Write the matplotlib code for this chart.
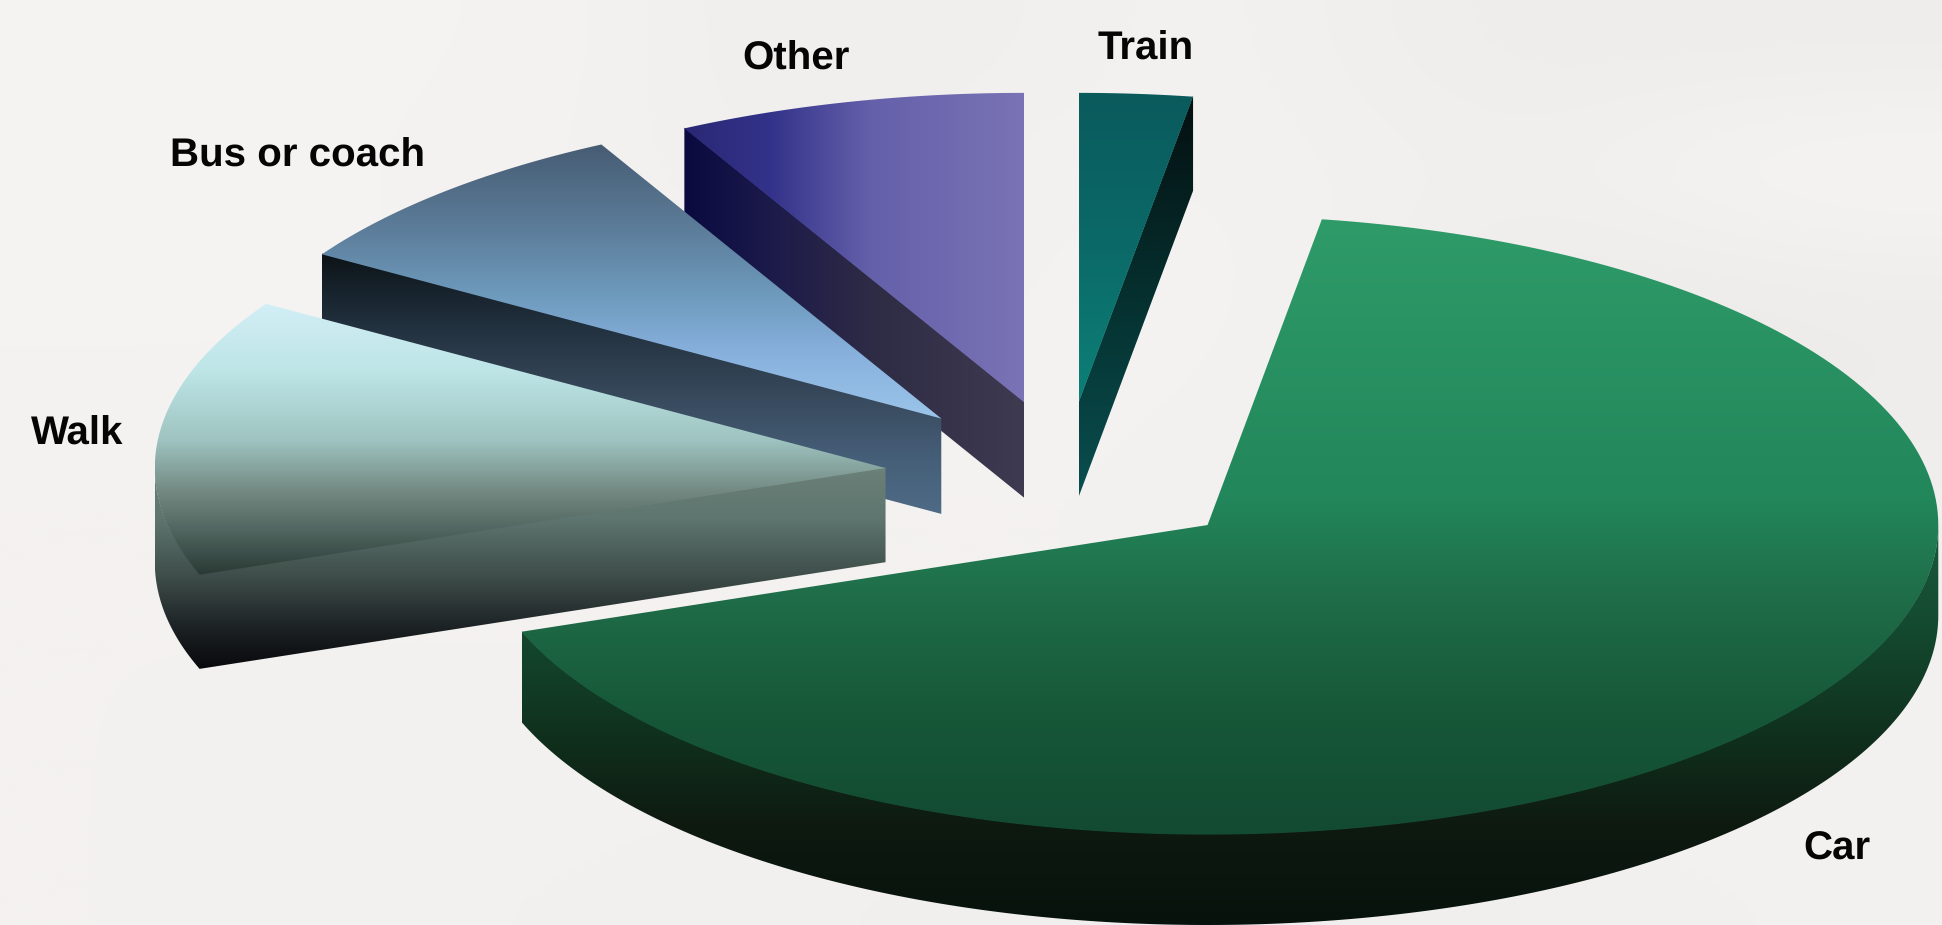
import numpy as np
import matplotlib
matplotlib.use("Agg")
import matplotlib.pyplot as plt
from matplotlib.colors import LinearSegmentedColormap
from matplotlib.patches import Polygon

plt.rcParams["text.hinting"] = "none"

# share of trips
labels = ["Car", "Walk", "Bus or coach", "Other", "Train"]
shares = [66.9, 14.5, 8.4, 7.7, 2.5]

# pie geometry, in the units of the shrunk picture
RX, RY = 590.0, 250.0
START = 81.0
apex_x = [975, 715, 760, 827, 871]
apex_y = [424, 378, 338, 325, 325]
depths = [73, 76, 77, 77, 76]
label_x = [1483, 62, 240, 643, 925]
label_y = [686, 351, 126, 48, 40]

# (fraction, colour) stops; Other runs left to right, the rest top to bottom
top_stops = [
    [(0, "#2f9b69"), (0.45, "#22875b"), (0.62, "#1f6c48"), (0.8, "#165838"), (1, "#134a32")],
    [(0, "#d2eef6"), (0.25, "#bde5e6"), (0.5, "#9fc4c1"), (0.7, "#71877f"), (0.85, "#4d625c"), (1, "#2a3935")],
    [(0, "#465c73"), (0.3, "#5c7c99"), (0.55, "#6e9abc"), (0.75, "#86afdc"), (1, "#9cc5ea")],
    [(0, "#2a2875"), (0.25, "#33328a"), (0.55, "#6460aa"), (1, "#7a73b5")],
    [(0, "#0a5a5c"), (0.5, "#0b6a68"), (1, "#0d8078")],
]
side_stops = [
    [(0, "#1a5a3c"), (0.25, "#144a30"), (0.5, "#10331f"), (0.75, "#0e1a10"), (1, "#07120c")],
    [(0, "#6a8078"), (0.25, "#5f7670"), (0.55, "#3d4c48"), (0.8, "#1c2124"), (1, "#08090c")],
    [(0, "#0d1418"), (0.25, "#1f2e3b"), (0.55, "#38495c"), (0.8, "#46607a"), (1, "#4f6a85")],
    [(0, "#0a0a40"), (0.25, "#1c1a4a"), (0.55, "#2e2b45"), (1, "#3e3a50")],
    [(0, "#050f10"), (0.5, "#05302f"), (1, "#0a4f50")],
]
horizontal = [False, False, False, True, False]

BG = "#f3f1ee"
# faint photo behind the chart, as a coarse grid of grey levels
bg_grid = np.array([
    [245, 245, 244, 244, 240, 240, 241, 243, 240, 238, 238, 238],
    [245, 244, 244, 243, 241, 241, 243, 243, 242, 241, 245, 247],
    [245, 245, 244, 243, 243, 243, 243, 244, 241, 237, 237, 238],
    [243, 243, 243, 243, 243, 243, 243, 243, 241, 236, 236, 238],
    [243, 243, 243, 243, 243, 243, 243, 243, 242, 238, 238, 241],
    [243, 243, 243, 243, 243, 243, 243, 243, 243, 241, 241, 243],
    [243, 243, 243, 243, 243, 243, 243, 243, 243, 243, 243, 243],
    [243, 243, 242, 242, 241, 241, 240, 240, 240, 241, 242, 242],
], dtype=float)


def ell(ax_, ay_, t):
    t = np.radians(t)
    return np.column_stack([ax_ + RX * np.cos(t), ay_ - RY * np.sin(t)])


def fill_grad(ax, verts, stops, across=False):
    cmap = LinearSegmentedColormap.from_list("g", stops, N=256)
    x0, y0 = verts.min(axis=0)
    x1, y1 = verts.max(axis=0)
    g = np.linspace(0, 1, 256)
    g = g[None, :] if across else g[:, None]
    im = ax.imshow(g, cmap=cmap, extent=(x0, x1, y1, y0), aspect="auto",
                   vmin=0, vmax=1, interpolation="bilinear", zorder=2)
    patch = Polygon(verts, closed=True, fc="none", ec="none", transform=ax.transData)
    ax.add_patch(patch)
    im.set_clip_path(patch)


fig = plt.figure(figsize=(19.42, 9.25), dpi=100, facecolor=BG)
ax = fig.add_axes([0, 0, 1, 1])
ax.set_facecolor(BG)

# warm tint on the grey levels
bg_rgb = np.dstack([bg_grid + 1, bg_grid - 1, bg_grid - 3]) / 255
ax.imshow(bg_rgb, extent=(0, 1568, 747, 0), aspect="auto",
          interpolation="bicubic", zorder=1)

# angle bounds of each slice, clockwise from START
bounds = START - np.cumsum([0] + shares) * 3.6

# back slices first so the nearer ones cover their sides
for i in range(len(labels) - 1, -1, -1):
    t0, t1 = bounds[i], bounds[i + 1]
    ax_, ay_, d = apex_x[i], apex_y[i], depths[i]
    arc = ell(ax_, ay_, np.linspace(t0, t1, 200))
    apex = np.array([[ax_, ay_]])

    # the part of the wall that faces the viewer
    if labels[i] == "Car":
        edge = ell(ax_, ay_, np.linspace(0, t1, 200))
    elif labels[i] == "Train":
        edge = np.vstack([ell(ax_, ay_, [t1]), apex])
    elif labels[i] == "Walk":
        edge = np.vstack([ell(ax_, ay_, np.linspace(-180, t0, 60)), apex])
    else:
        edge = np.vstack([ell(ax_, ay_, [t0]), apex])
    # start the wall just under the top face, no seam between them
    wall = np.vstack([edge + [0, -0.6], (edge + [0, d])[::-1]])

    fill_grad(ax, wall, side_stops[i], horizontal[i])
    fill_grad(ax, np.vstack([apex, arc]), top_stops[i], horizontal[i])

    ax.text(label_x[i], label_y[i], labels[i], ha="center", va="center",
            fontsize=29, fontweight="bold", family="Liberation Sans",
            color="#050505", zorder=5)

ax.set_xlim(0, 1568)
ax.set_ylim(747, 0)
ax.axis("off")

fig.savefig("out.png", dpi=100, facecolor=BG)
